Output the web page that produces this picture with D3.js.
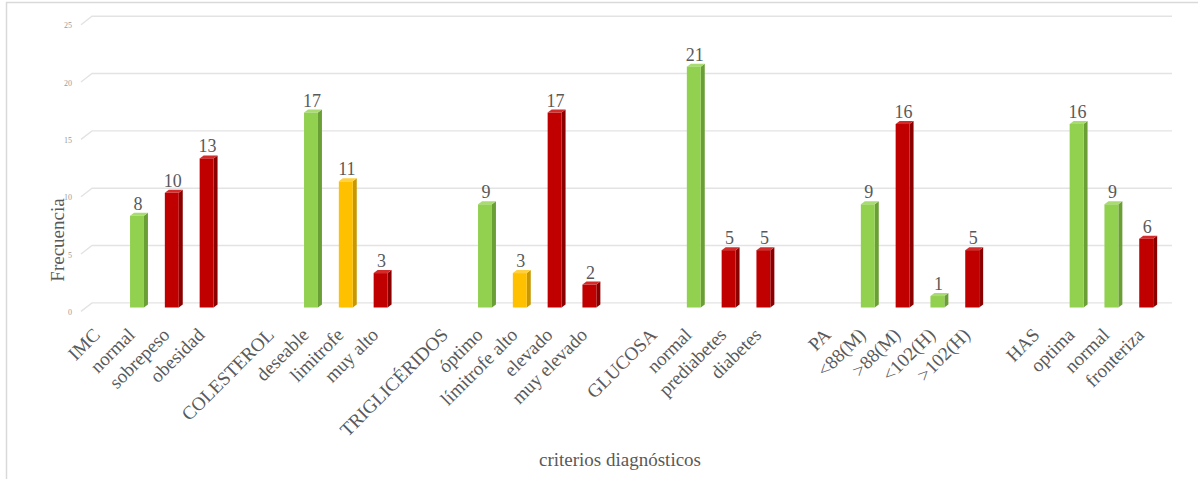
<!DOCTYPE html>
<html>
<head>
<meta charset="utf-8">
<script src="https://cdn.jsdelivr.net/npm/d3@7/dist/d3.min.js"></script>
<style>
  html, body { margin: 0; padding: 0; background: #fff; }
  svg { display: block; }
  text { font-family: "Liberation Serif", "Times New Roman", serif; }
</style>
</head>
<body>
<svg id="chart" width="1198" height="479"></svg>
<script>
// Category slots along the x axis (group headers and blank spacers carry no bar)
const categories = [
  "IMC", "normal", "sobrepeso", "obesidad", "",
  "COLESTEROL", "deseable", "limitrofe", "muy alto", " ",
  "TRIGLICÉRIDOS", "óptimo", "límitrofe alto", "elevado", "muy elevado", "  ",
  "GLUCOSA", "normal ", "prediabetes", "diabetes", "   ",
  "PA", "<88(M)", ">88(M)", "<102(H)", ">102(H)", "    ",
  "HAS", "optima", "normal  ", "fronteriza"
];
// Frequency per slot (null = no bar)
const values = [
  null, 8, 10, 13, null,
  null, 17, 11, 3, null,
  null, 9, 3, 17, 2, null,
  null, 21, 5, 5, null,
  null, 9, 16, 1, 5, null,
  null, 16, 9, 6
];
// Colour class per slot: g = adecuado, y = limítrofe, r = alterado
const levels = [
  null, "g", "r", "r", null,
  null, "g", "y", "r", null,
  null, "g", "y", "r", "r", null,
  null, "g", "r", "r", null,
  null, "g", "r", "g", "r", null,
  null, "g", "g", "r"
];
const yTicks = [0, 5, 10, 15, 20, 25];

const palette = {
  g: { front: "#92D050", side: "#6A9F35", top: "#A8DC70" },
  y: { front: "#FFC000", side: "#C99700", top: "#FFD040" },
  r: { front: "#C00000", side: "#8A0000", top: "#D42A2A" }
};

const svg = d3.select("#chart");
const textColor = "#595959";
const gridColor = "#e3e3e3";

// chart frame
svg.append("path")
  .attr("d", "M6.5,479 V2.5 H1198")
  .attr("fill", "none").attr("stroke", "#d9d9d9").attr("stroke-width", 1.5);

const x = d3.scaleBand()
  .domain(categories)
  .range([84.8, 1163.6])
  .paddingInner(0.6)
  .paddingOuter(0.3);

// front plane (bars) and back wall (gridlines) scales
const y = d3.scaleLinear().domain([0, 25]).range([307.5, 20.8]);
const depthX = 4, depthY = -3;
const wallShiftY = -4.6;
const yBack = v => y(v) + wallShiftY;

// gridlines with perspective stub on the left
const grid = svg.append("g");
yTicks.forEach(t => {
  const g = yBack(t);
  grid.append("path")
    .attr("d", `M81,${g + 8.5} L92,${g} H1172`)
    .attr("fill", "none").attr("stroke", gridColor).attr("stroke-width", 1.4);
});

// y axis tick labels
const yAxis = d3.axisLeft(d3.scaleLinear().domain([0, 25]).range([yBack(0) + 9, yBack(25) + 9]))
  .tickValues(yTicks).tickSize(0).tickPadding(0);
const yAxisG = svg.append("g").attr("transform", "translate(72,0)").call(yAxis);
yAxisG.select(".domain").remove();
yAxisG.selectAll("text")
  .attr("font-family", "Liberation Serif, serif")
  .attr("font-size", 8).attr("fill", "#9a9a9a");

// bars as shallow 3D columns
const data = categories.map((c, i) => ({ c, v: values[i], lv: levels[i] }))
  .filter(d => d.v !== null);

const bw = x.bandwidth();
const bars = svg.append("g").selectAll("g").data(data).join("g");

bars.append("polygon") // side face
  .attr("points", d => {
    const x1 = x(d.c) + bw, t = y(d.v), b = y(0);
    return [[x1, t], [x1 + depthX, t + depthY], [x1 + depthX, b + depthY], [x1, b]].join(" ");
  })
  .attr("fill", d => palette[d.lv].side);

bars.append("polygon") // top face
  .attr("points", d => {
    const x0 = x(d.c), x1 = x0 + bw, t = y(d.v);
    return [[x0, t], [x0 + depthX, t + depthY], [x1 + depthX, t + depthY], [x1, t]].join(" ");
  })
  .attr("fill", d => palette[d.lv].top);

bars.append("rect") // front face
  .attr("x", d => x(d.c))
  .attr("y", d => y(d.v))
  .attr("width", bw)
  .attr("height", d => y(0) - y(d.v))
  .attr("fill", d => palette[d.lv].front);

// value labels
bars.append("text")
  .attr("x", d => x(d.c) + bw / 2 + 1)
  .attr("y", d => y(d.v) - 6)
  .attr("text-anchor", "middle")
  .attr("font-size", 18)
  .attr("fill", textColor)
  .text(d => d.v);

// rotated category labels
const xAxis = d3.axisBottom(x).tickSize(0).tickPadding(0);
const xAxisG = svg.append("g").call(xAxis);
xAxisG.select(".domain").remove();
xAxisG.selectAll(".tick text")
  .attr("font-family", "Liberation Serif, serif")
  .attr("font-size", 19)
  .attr("fill", textColor)
  .attr("text-anchor", "end")
  .attr("dy", null)
  .attr("y", null)
  .attr("transform", "translate(-1,336) rotate(-45)")
  .text(d => d.trim());

// axis titles
svg.append("text")
  .attr("transform", "translate(64,240) rotate(-90)")
  .attr("text-anchor", "middle")
  .attr("font-size", 19)
  .attr("fill", textColor)
  .text("Frecuencia");

svg.append("text")
  .attr("x", 620).attr("y", 466)
  .attr("text-anchor", "middle")
  .attr("font-size", 19)
  .attr("fill", textColor)
  .text("criterios diagnósticos");
</script>
</body>
</html>
